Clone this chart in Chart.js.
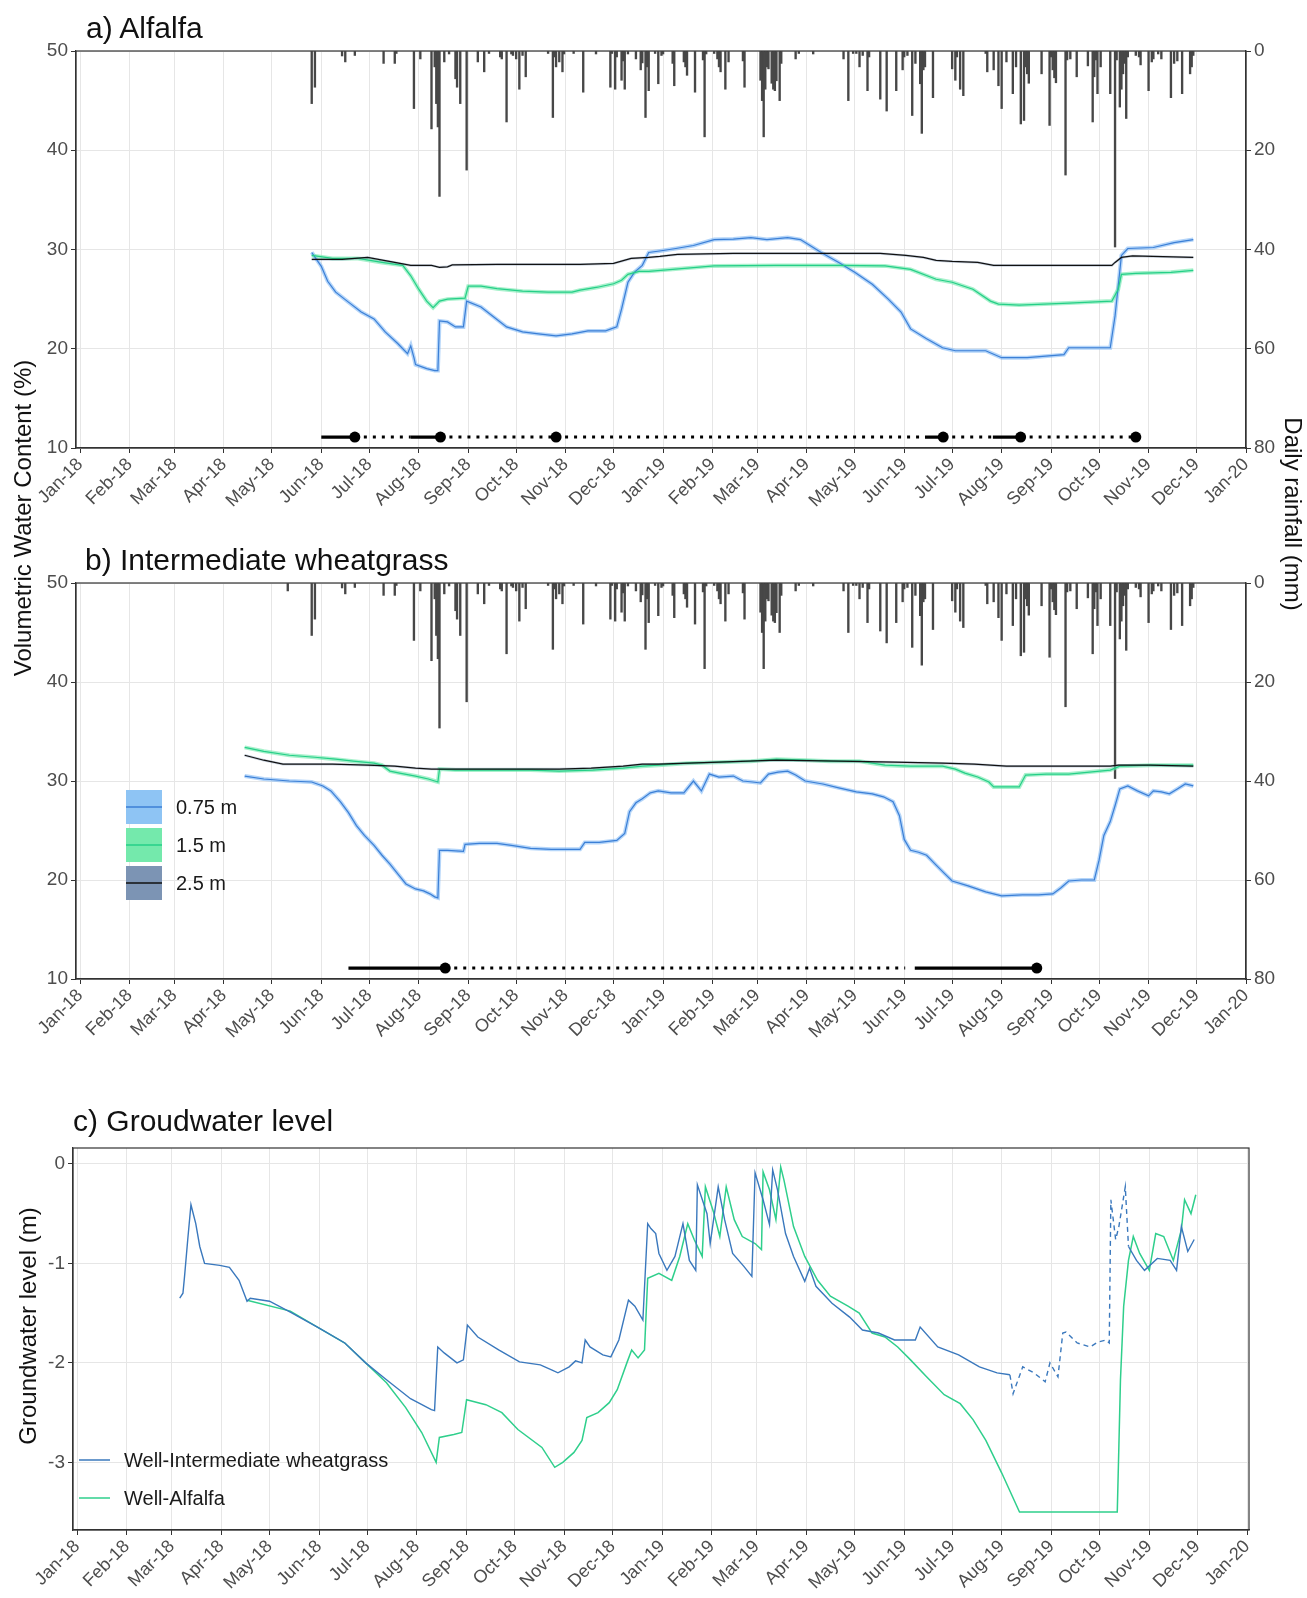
<!DOCTYPE html>
<html>
<head>
<meta charset="utf-8">
<script src="https://cdn.jsdelivr.net/npm/chart.js@4/dist/chart.umd.min.js"></script>
<style>
  body { margin: 0; background: #fff; width: 1307px; height: 1598px; position: relative; overflow: hidden;
         font-family: "Liberation Sans", Arial, sans-serif; }
  canvas { position: absolute; left: 0; }
  .ttl { position: absolute; font-size: 30px; line-height: 30px; color: #111; white-space: nowrap; }
  .ax { position: absolute; width: 420px; height: 28px; line-height: 28px; font-size: 24px; color: #111;
        text-align: center; white-space: nowrap; }
</style>
</head>
<body>
<canvas id="chartA" width="1307" height="530" style="top:0"></canvas>
<canvas id="chartB" width="1307" height="530" style="top:530px"></canvas>
<canvas id="chartC" width="1307" height="528" style="top:1070px"></canvas>

<div class="ttl" style="left:86px;top:13px">a) Alfalfa</div>
<div class="ttl" style="left:85px;top:545px">b) Intermediate wheatgrass</div>
<div class="ttl" style="left:73px;top:1106px">c) Groudwater level</div>
<div class="ax" style="left:-187px;top:504px;transform:rotate(-90deg)">Volumetric Water Content (%)</div>
<div class="ax" style="left:1083px;top:500px;transform:rotate(90deg)">Daily rainfall (mm)</div>
<div class="ax" style="left:-182px;top:1312px;transform:rotate(-90deg)">Groundwater level (m)</div>

<script>
// x axis: days since 1 Jan 2018
const monthStarts = [0, 31, 59, 90, 120, 151, 181, 212, 243, 273, 304, 334,
  365, 396, 424, 455, 485, 516, 546, 577, 608, 638, 669, 699, 730];
const monthLabels = ["Jan-18", "Feb-18", "Mar-18", "Apr-18", "May-18", "Jun-18", "Jul-18", "Aug-18",
  "Sep-18", "Oct-18", "Nov-18", "Dec-18", "Jan-19", "Feb-19", "Mar-19", "Apr-19", "May-19", "Jun-19",
  "Jul-19", "Aug-19", "Sep-19", "Oct-19", "Nov-19", "Dec-19", "Jan-20"];

const depthLabels = ["0.75 m", "1.5 m", "2.5 m"];
const wellLabels = ["Well-Intermediate wheatgrass", "Well-Alfalfa"];

// daily rainfall (mm), [day, mm]
const rainfall = [[130,1.6],[145,10.6],[147,7.3],[164,1.0],[166,2.2],[172,0.9],[190,2.5],[197,2.5],[198,0.5],
  [209,11.6],[213,1.6],[220,15.7],[222,3.2],[223,10.6],[224,15.3],[225,29.3],[228,2.2],[231,0.6],[235,5.6],
  [236,7.3],[238,10.6],[242,24.0],[249,2.2],[253,4.2],[256,0.5],[263,1.2],[264,1.6],[267,14.3],[270,0.6],
  [271,0.9],[273,1.6],[275,7.7],[277,0.9],[279,5.2],[293,0.5],[296,13.4],[297,1.2],[298,3.2],[300,2.2],
  [302,4.2],[303,0.6],[309,0.5],[315,8.3],[323,0.6],[332,7.3],[333,0.5],[335,7.7],[336,1.2],[339,5.9],
  [340,2.0],[341,7.7],[343,0.6],[348,1.6],[351,3.8],[352,2.4],[354,13.4],[355,3.2],[356,8.0],[360,0.5],
  [362,6.6],[364,0.9],[365,0.6],[371,2.5],[372,7.0],[378,2.2],[379,3.2],[380,4.9],[385,8.3],[390,1.8],
  [391,17.3],[392,0.6],[397,0.5],[399,1.6],[400,3.2],[401,4.2],[404,7.7],[406,2.2],[415,2.0],[416,7.3],
  [426,5.9],[427,10.0],[428,17.3],[429,7.7],[430,3.2],[431,3.6],[433,6.5],[434,7.7],[435,8.0],[436,6.0],
  [438,10.0],[439,2.5],[448,1.6],[450,0.5],[459,0.6],[478,1.6],[481,10.0],[484,0.5],[486,0.5],[488,3.2],
  [490,0.9],[493,8.0],[494,1.2],[501,9.7],[505,12.1],[511,8.0],[515,3.8],[516,1.2],[518,0.9],[521,13.0],
  [523,2.5],[526,6.6],[527,16.6],[528,3.8],[529,3.2],[534,9.4],[546,3.6],[548,5.9],[549,1.2],[551,7.7],
  [553,9.0],[567,0.5],[568,4.2],[572,3.8],[575,7.0],[577,11.6],[580,2.2],[584,8.6],[586,3.2],[589,14.7],
  [591,14.0],[592,3.2],[593,4.6],[594,6.5],[602,4.6],[607,15.0],[608,1.2],[609,3.8],[610,5.4],[611,6.4],
  [617,25.0],[618,1.8],[620,1.6],[624,5.2],[631,3.0],[634,14.3],[635,5.2],[636,1.8],[637,8.6],[639,3.2],
  [645,8.6],[648,39.5],[649,1.8],[651,11.3],[652,7.7],[653,4.6],[654,2.5],[655,13.6],[656,1.2],[661,0.9],
  [663,1.2],[664,2.8],[669,8.0],[671,2.2],[672,1.6],[675,0.6],[677,1.6],[683,9.4],[685,2.5],[687,2.0],
  [690,8.6],[695,4.6],[696,3.2],[697,0.9]];

// a) alfalfa, volumetric water content (%), [day, value]
const alfalfa075 = [[145,29.7],[151,28.3],[155,26.8],[160,25.7],[168,24.7],[176,23.7],[184,23.0],[191,21.7],
  [199,20.5],[205,19.5],[207,20.3],[209,19.1],[210,18.4],[217,18.0],[222,17.8],[224,17.8],[225,22.8],
  [230,22.7],[235,22.2],[240,22.2],[242,24.8],[251,24.2],[259,23.2],[267,22.2],[277,21.7],[287,21.5],
  [298,21.3],[308,21.5],[318,21.8],[329,21.8],[336,22.2],[339,24.0],[343,26.7],[347,27.7],[352,28.4],
  [356,29.7],[365,29.9],[373,30.1],[384,30.4],[397,31.0],[409,31.05],[420,31.2],[430,31.0],[443,31.2],
  [451,31.0],[457,30.4],[464,29.7],[475,28.7],[485,27.7],[496,26.5],[506,25.0],[514,23.7],[520,22.0],
  [530,21.0],[540,20.1],[548,19.8],[567,19.8],[577,19.1],[593,19.1],[616,19.4],[619,20.1],[645,20.1],
  [648,23.3],[652,29.4],[656,30.1],[672,30.2],[685,30.7],[697,31.0]];
const alfalfa15 = [[145,29.4],[158,29.1],[174,29.1],[189,28.7],[202,28.4],[207,27.35],[212,26.0],[217,24.8],
  [221,24.15],[225,24.8],[230,25.0],[241,25.1],[243,26.3],[251,26.3],[261,26.05],[277,25.8],[293,25.7],
  [308,25.7],[313,25.9],[324,26.2],[334,26.55],[339,26.9],[343,27.5],[350,27.8],[356,27.8],[371,28.0],
  [397,28.35],[436,28.4],[475,28.4],[504,28.35],[520,28.0],[536,27.0],[546,26.7],[559,26.0],[570,24.8],
  [575,24.5],[588,24.4],[619,24.6],[646,24.8],[650,26.0],[652,27.5],[661,27.6],[683,27.7],[697,27.9]];
const alfalfa25 = [[145,29.0],[164,29.0],[180,29.2],[197,28.7],[207,28.4],[220,28.4],[225,28.2],[230,28.25],
  [233,28.45],[261,28.5],[313,28.5],[324,28.55],[334,28.6],[345,29.1],[356,29.2],[363,29.3],[374,29.5],
  [409,29.6],[462,29.6],[501,29.6],[517,29.4],[528,29.2],[536,28.9],[546,28.8],[562,28.7],[572,28.4],
  [646,28.4],[648,28.7],[652,29.2],[659,29.35],[697,29.2]];

// b) intermediate wheatgrass
const wheat075 = [[103,30.5],[115,30.2],[131,30.0],[145,29.9],[152,29.5],[157,29.0],[163,27.9],[168,26.8],
  [173,25.5],[178,24.5],[184,23.5],[189,22.5],[194,21.6],[199,20.6],[204,19.6],[210,19.1],[215,18.9],
  [219,18.6],[222,18.3],[224,18.2],[225,23.0],[230,23.0],[240,22.9],[241,23.6],[250,23.7],[261,23.7],
  [270,23.5],[282,23.2],[295,23.1],[313,23.1],[316,23.8],[325,23.8],[336,24.0],[341,24.7],[344,26.9],
  [348,27.8],[352,28.2],[357,28.8],[362,29.0],[370,28.8],[378,28.8],[384,30.0],[389,29.0],[394,30.7],
  [400,30.4],[409,30.5],[415,30.0],[421,29.9],[426,29.8],[431,30.7],[437,30.9],[443,31.0],[448,30.6],
  [454,30.0],[465,29.7],[475,29.3],[486,28.9],[496,28.7],[503,28.4],[509,27.9],[513,26.5],[516,24.1],
  [520,23.0],[525,22.8],[530,22.5],[536,21.5],[541,20.7],[546,19.9],[556,19.4],[567,18.8],[577,18.4],
  [590,18.5],[600,18.5],[609,18.6],[614,19.2],[619,19.9],[627,20.0],[635,20.0],[638,22.0],[641,24.5],
  [645,25.9],[648,27.5],[651,29.2],[656,29.5],[662,29.0],[669,28.5],[672,29.0],[677,28.9],[682,28.7],
  [687,29.2],[692,29.7],[697,29.5]];
const wheat15 = [[103,33.4],[115,33.0],[131,32.6],[147,32.4],[160,32.2],[171,32.0],[184,31.8],[189,31.6],
  [194,31.0],[200,30.8],[210,30.5],[218,30.2],[222,30.0],[224,29.9],[225,31.2],[235,31.1],[248,31.1],
  [265,31.1],[282,31.1],[300,31.0],[321,31.1],[340,31.3],[352,31.5],[362,31.6],[380,31.8],[400,31.9],
  [420,32.0],[436,32.2],[455,32.1],[470,32.0],[488,32.0],[504,31.6],[520,31.5],[540,31.5],[548,31.2],
  [554,30.8],[562,30.4],[569,29.9],[572,29.4],[580,29.4],[588,29.4],[592,30.6],[605,30.7],[619,30.7],
  [632,30.9],[645,31.1],[651,31.5],[670,31.6],[697,31.6]];
const wheat25 = [[103,32.6],[115,32.1],[127,31.7],[158,31.7],[180,31.6],[197,31.5],[210,31.3],[220,31.2],
  [240,31.2],[261,31.2],[280,31.2],[300,31.2],[320,31.3],[340,31.5],[352,31.7],[362,31.7],[400,31.9],
  [436,32.1],[475,32.0],[510,31.9],[540,31.8],[560,31.7],[580,31.5],[610,31.5],[645,31.5],[650,31.6],
  [670,31.6],[697,31.5]];

// periods drawn along the bottom of a) and b): [start, end] days
const alfalfaSolid = [[151,172],[207,225.6],[529,540.4],[571.5,588.9]];
const alfalfaDotted = [[172,207],[225.6,298],[298,529],[540.4,571.5],[588.9,661]];
const alfalfaDots = [172,225.6,298,540.4,588.9,661];
const wheatSolid = [[168,228.6],[522.6,599]];
const wheatDotted = [[228.6,516.6]];
const wheatDots = [228.6,599];
const markLevel = 11.1;

// c) groundwater level (m)
const wellWheat = [[64,-1.35],[66,-1.3],[67,-1.13],[69,-0.76],[71,-0.41],[74,-0.6],[76.5,-0.83],[79.5,-1.0],
  [89,-1.02],[95,-1.04],[101,-1.17],[106,-1.38],[108,-1.35],[120,-1.38],[133,-1.49],[151,-1.65],[167,-1.8],
  [180,-2.0],[193,-2.17],[208,-2.36],[221,-2.47],[223,-2.48],[225,-1.84],[229,-1.9],[237,-2.0],[241,-1.97],
  [243.5,-1.62],[250,-1.74],[263,-1.87],[276,-1.99],[289,-2.02],[296,-2.07],[300,-2.1],[307,-2.04],
  [311,-1.98],[315,-2.0],[317,-1.77],[320,-1.84],[328,-1.92],[333,-1.94],[338,-1.77],[344,-1.37],
  [348,-1.43],[353,-1.57],[356,-0.6],[358,-0.65],[361,-0.7],[363,-0.9],[368,-1.07],[373,-0.93],[378,-0.6],
  [382,-0.97],[386,-1.07],[387,-0.21],[393,-0.5],[395,-0.8],[400,-0.23],[404,-0.56],[409,-0.9],[416,-1.03],
  [421,-1.13],[423,-0.09],[428,-0.36],[432,-0.61],[434,-0.06],[437,-0.26],[442,-0.7],[447,-0.93],
  [454,-1.18],[457,-1.05],[461,-1.23],[471,-1.4],[482,-1.54],[490,-1.67],[500,-1.7],[510,-1.77],
  [523,-1.77],[526,-1.64],[537,-1.84],[550,-1.92],[563,-2.04],[574,-2.1],[582,-2.12],[584,-2.31],
  [590,-2.04],[597,-2.1],[604,-2.19],[607,-2.0],[612,-2.14],[615,-1.7],[617,-1.69],[624,-1.8],[632,-1.84],
  [637,-1.79],[642,-1.77],[644,-1.8],[645,-0.36],[648,-0.76],[650,-0.63],[654,-0.23],[656,-0.83],
  [661,-0.97],[666,-1.07],[674,-0.95],[682,-0.97],[686,-1.07],[689,-0.63],[693,-0.88],[697,-0.76]];
const wellAlfalfa = [[106,-1.37],[133,-1.48],[151,-1.65],[167,-1.8],[180,-2.0],[193,-2.2],[205,-2.45],
  [215,-2.7],[224,-3.0],[226,-2.75],[235,-2.72],[240,-2.7],[243,-2.37],[255,-2.42],[265,-2.5],[275,-2.67],
  [290,-2.85],[298,-3.05],[303,-3.0],[310,-2.9],[315,-2.78],[318,-2.55],[325,-2.5],[332,-2.4],[337,-2.27],
  [343,-2.0],[346,-1.87],[350,-1.95],[354,-1.87],[356,-1.15],[363,-1.1],[371,-1.17],[376,-0.93],[381,-0.6],
  [385,-0.76],[390,-0.93],[392,-0.23],[397,-0.48],[401,-0.73],[405,-0.23],[410,-0.56],[415,-0.73],
  [423,-0.8],[427,-0.86],[428,-0.08],[432,-0.26],[436,-0.56],[439,-0.03],[441,-0.16],[447,-0.63],
  [454,-0.93],[462,-1.17],[470,-1.33],[481,-1.43],[488,-1.5],[496,-1.7],[504,-1.74],[512,-1.84],
  [520,-1.97],[530,-2.14],[541,-2.32],[551,-2.41],[559,-2.57],[567,-2.78],[577,-3.11],[588,-3.5],
  [649,-3.5],[650,-2.84],[651,-2.17],[653,-1.43],[656,-0.97],[659,-0.73],[663,-0.9],[669,-1.07],
  [673,-0.7],[678,-0.73],[684,-0.97],[689,-0.66],[691,-0.36],[695,-0.5],[698,-0.31]];
const wellGapDays = [582, 660]; // logger gap, drawn dashed

// colours
const lineCols = ["#3b7fd6", "#25cf88", "#111111"];
const ribbonCols = ["rgba(130,185,245,0.6)", "rgba(110,232,170,0.6)", "rgba(100,128,165,0.35)"];
const ribbonWidths = [4, 4, 2.5];
const legendBoxCols = ["#8ec4f4", "#74e9ac", "#7c94b4"];
const wellCols = ["#3a78bd", "#2fcf8c"];
const GRID = "#e6e6e6", DARK = "#333333", TICK_TXT = "#4d4d4d";
const FONT = '"Liberation Sans", Arial, sans-serif';

Chart.defaults.font.family = FONT;

const xy = (arr) => arr.map(([x, y]) => ({ x, y }));

// split [start,end] pairs into one line dataset with gaps
const segments = (pairs, y) => pairs.flatMap(([a, b]) => [{ x: a, y }, { x: b, y }, { x: b + 0.01, y: null }]);

function xAxis(min, max, height) {
  return {
    type: "linear", min, max, offset: false,
    afterBuildTicks: (s) => { s.ticks = monthStarts.map((v) => ({ value: v })); },
    afterFit: (s) => { s.height = height; },
    ticks: { autoSkip: false, minRotation: 45, maxRotation: 45, padding: 1, color: TICK_TXT,
      font: { size: 18 }, callback: (v, i) => monthLabels[i] },
    grid: { color: GRID, tickColor: DARK, tickLength: 5, offset: false },
    border: { color: DARK, width: 1.2 },
  };
}

function yAxis(pos, min, max, ticks, width, extra) {
  return Object.assign({
    type: "linear", position: pos, min, max,
    afterBuildTicks: (s) => { s.ticks = ticks.map((v) => ({ value: v })); },
    afterFit: (s) => { s.width = width; },
    ticks: { color: TICK_TXT, font: { size: 19 }, padding: 3 },
    grid: { color: GRID, tickColor: DARK, tickLength: 5 },
    border: { color: DARK, width: 1.2 },
  }, extra || {});
}

const frame = {
  id: "frame",
  afterDatasetsDraw(chart) {
    const { ctx, chartArea: a } = chart;
    ctx.save();
    ctx.strokeStyle = DARK;
    ctx.lineWidth = 1.2;
    ctx.strokeRect(a.left, a.top, a.right - a.left, a.bottom - a.top);
    ctx.restore();
  },
};

// datasets for one VWC panel
function vwcDatasets(rain, series, solid, dotted, dots) {
  const sets = [];
  sets.push({ type: "scatter", data: dots.map((x) => ({ x, y: markLevel })), pointRadius: 5.5,
    pointBackgroundColor: "#000", pointBorderWidth: 0, order: 0 });
  sets.push({ type: "line", data: segments(solid, markLevel), borderColor: "#000", borderWidth: 3.2,
    pointRadius: 0, spanGaps: false, order: 1 });
  sets.push({ type: "line", data: segments(dotted, markLevel), borderColor: "#000", borderWidth: 3,
    borderDash: [3, 6], pointRadius: 0, spanGaps: false, order: 1 });
  // thin lines on top, wider translucent bands (confidence ribbons) underneath
  [2, 1, 0].forEach((k) => {
    sets.push({ type: "line", data: xy(series[k]), borderColor: lineCols[k], borderWidth: 1.2,
      pointRadius: 0, order: 2 + (2 - k) });
    sets.push({ type: "line", data: xy(series[k]), borderColor: ribbonCols[k], borderWidth: ribbonWidths[k],
      pointRadius: 0, order: 6 + (2 - k) });
  });
  sets.push({ type: "bar", data: xy(rain), yAxisID: "yr", backgroundColor: "#474747",
    barThickness: 1.7, grouped: false, order: 10 });
  return sets;
}

function vwcChart(id, padTop, xHeight, rain, series, solid, dotted, dots, plugins) {
  return new Chart(document.getElementById(id), {
    type: "line",
    data: { datasets: vwcDatasets(rain, series, solid, dotted, dots) },
    options: {
      responsive: false, animation: false, devicePixelRatio: 1,
      layout: { padding: { top: padTop, left: 0, right: 0, bottom: 0 } },
      plugins: { legend: { display: false }, tooltip: { enabled: false } },
      scales: {
        x: xAxis(-2.6, 730, xHeight),
        y: yAxis("left", 10, 50, [10, 20, 30, 40, 50], 76),
        yr: yAxis("right", 0, 80, [0, 20, 40, 60, 80], 61,
          { reverse: true, grid: { drawOnChartArea: false, tickColor: DARK, tickLength: 5 } }),
      },
    },
    plugins: [frame].concat(plugins || []),
  });
}

const depthLegend = {
  id: "depthLegend",
  afterDraw(chart) {
    const ctx = chart.ctx;
    ctx.save();
    depthLabels.forEach((lab, i) => {
      const y0 = 260 + i * 38;
      ctx.fillStyle = legendBoxCols[i];
      ctx.fillRect(126, y0, 36, 34);
      ctx.strokeStyle = lineCols[i];
      ctx.lineWidth = 1.3;
      ctx.beginPath();
      ctx.moveTo(126, y0 + 17);
      ctx.lineTo(162, y0 + 17);
      ctx.stroke();
      ctx.fillStyle = "#1a1a1a";
      ctx.font = "20px " + FONT;
      ctx.textBaseline = "middle";
      ctx.fillText(lab, 176, y0 + 18);
    });
    ctx.restore();
  },
};

const wellLegend = {
  id: "wellLegend",
  afterDraw(chart) {
    const ctx = chart.ctx;
    ctx.save();
    wellLabels.forEach((lab, i) => {
      const y = 390 + i * 38;
      ctx.strokeStyle = wellCols[i];
      ctx.lineWidth = 1.5;
      ctx.beginPath();
      ctx.moveTo(79, y);
      ctx.lineTo(110, y);
      ctx.stroke();
      ctx.fillStyle = "#1a1a1a";
      ctx.font = "20px " + FONT;
      ctx.textBaseline = "middle";
      ctx.fillText(lab, 124, y + 1);
    });
    ctx.restore();
  },
};

// a) Alfalfa: sensors installed late May 2018
vwcChart("chartA", 51, 82, rainfall.filter(([d]) => d >= 140),
  [alfalfa075, alfalfa15, alfalfa25], alfalfaSolid, alfalfaDotted, alfalfaDots);

// b) Intermediate wheatgrass
vwcChart("chartB", 53, 81, rainfall,
  [wheat075, wheat15, wheat25], wheatSolid, wheatDotted, wheatDots, [depthLegend]);

// c) Groundwater level
new Chart(document.getElementById("chartC"), {
  type: "line",
  data: {
    datasets: [
      { data: xy(wellWheat), borderColor: wellCols[0], borderWidth: 1.4, pointRadius: 0, order: 0,
        segment: { borderDash: (c) => (c.p0.parsed.x >= wellGapDays[0] && c.p1.parsed.x <= wellGapDays[1] ? [5, 4] : undefined) } },
      { data: xy(wellAlfalfa), borderColor: wellCols[1], borderWidth: 1.5, pointRadius: 0, order: 1 },
    ],
  },
  options: {
    responsive: false, animation: false, devicePixelRatio: 1,
    layout: { padding: { top: 78, left: 0, right: 58, bottom: 0 } },
    plugins: { legend: { display: false }, tooltip: { enabled: false } },
    scales: {
      x: xAxis(-2.6, 731.2, 68),
      y: yAxis("left", -3.68, 0.16, [0, -1, -2, -3], 73),
    },
  },
  plugins: [frame, wellLegend],
});
</script>
</body>
</html>
